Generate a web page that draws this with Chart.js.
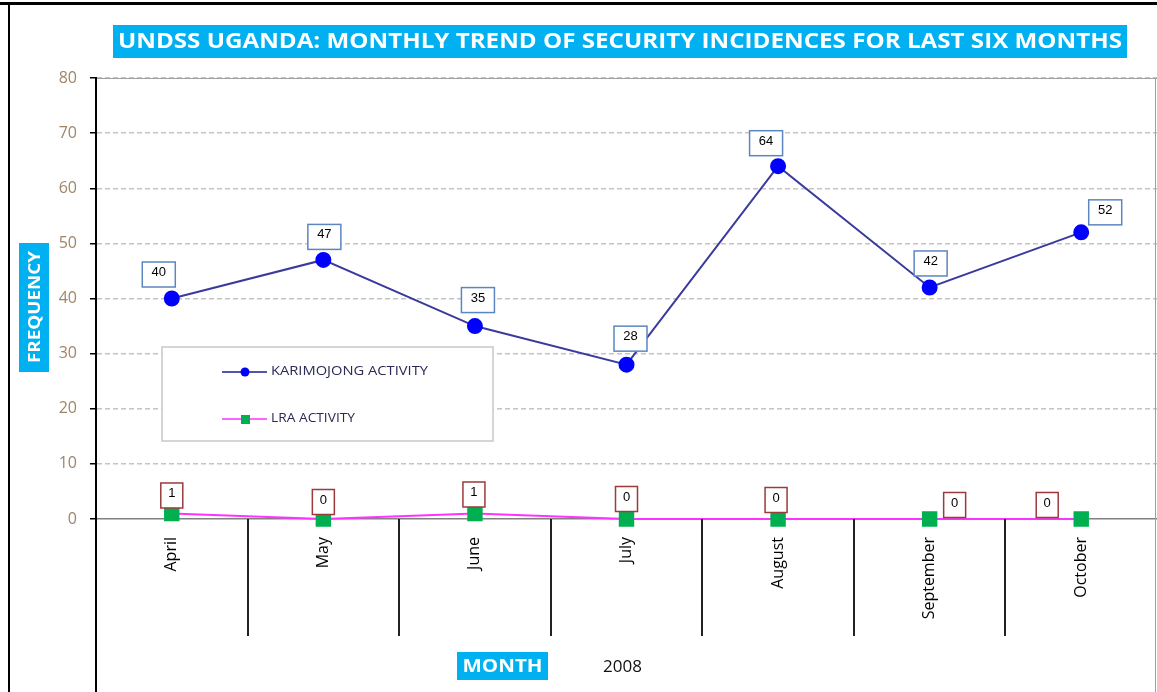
<!DOCTYPE html>
<html><head><meta charset="utf-8">
<script src="https://cdn.jsdelivr.net/npm/chart.js@4/dist/chart.umd.min.js"></script>
<style>html,body{margin:0;padding:0;background:#fff;overflow:hidden}#wrap{width:1157px;height:692px;position:relative}</style>
</head><body><div id="wrap"><canvas id="c" width="1157" height="692"></canvas></div>
<script>
// ---- data ----
const titleText = 'UNDSS UGANDA: MONTHLY TREND OF SECURITY INCIDENCES FOR LAST SIX MONTHS';
const months = ['April', 'May', 'June', 'July', 'August', 'September', 'October'];
const karimojong = [40, 47, 35, 28, 64, 42, 52];
const lra = [1, 0, 1, 0, 0, 0, 0];
const seriesNames = ['KARIMOJONG ACTIVITY', 'LRA ACTIVITY'];
const yAxisTitle = 'FREQUENCY';
const xAxisTitle = 'MONTH';
const yearLabel = '2008';
const yMin = 0, yMax = 80, yStep = 10;

// ---- label placement (style) ----
const kOff = [[-13,-24],[1,-23],[3,-26],[4,-26],[-12,-23],[1,-24],[24,-20]];
const lOff = [[0,-18],[0,-17],[-1,-19],[0,-20],[-2,-19],[25,-14],[-34,-14]];

const CYAN = '#00b0f0';

function fitText(ctx, text, x, y, targetW, font) {
  ctx.save();
  ctx.font = font;
  const w = ctx.measureText(text).width;
  const s = targetW / w;
  ctx.translate(x, y);
  ctx.scale(s, 1);
  ctx.textAlign = 'center';
  ctx.textBaseline = 'middle';
  ctx.fillText(text, 0, 0);
  ctx.restore();
}

const decor = {
  id: 'decor',
  beforeDraw(chart) {
    const ctx = chart.ctx;
    ctx.save();
    ctx.fillStyle = '#fff';
    ctx.fillRect(0, 0, chart.width, chart.height);
    ctx.restore();
  },
  afterDraw(chart) {
    const ctx = chart.ctx;
    const ca = chart.chartArea;
    const xs = chart.scales.x;
    ctx.save();
    // frame
    ctx.fillStyle = '#000';
    ctx.fillRect(0, 2, chart.width, 3);
    ctx.fillRect(8, 2, 2, chart.height);
    // plot area top and right border
    ctx.strokeStyle = '#a0a0a0';
    ctx.lineWidth = 1;
    ctx.beginPath();
    ctx.moveTo(ca.left, ca.top + 0.5); ctx.lineTo(ca.right, ca.top + 0.5);
    ctx.moveTo(1155.5, ca.top); ctx.lineTo(1155.5, chart.height);
    ctx.stroke();
    // y axis extended down
    ctx.strokeStyle = '#000';
    ctx.lineWidth = 2;
    ctx.beginPath();
    ctx.moveTo(ca.left, ca.top); ctx.lineTo(ca.left, chart.height);
    ctx.stroke();
    // category separators below axis
    ctx.strokeStyle = '#222';
    ctx.lineWidth = 2;
    ctx.beginPath();
    for (let i = 1; i < months.length; i++) {
      const x = Math.round((xs.getPixelForValue(i - 1) + xs.getPixelForValue(i)) / 2);
      ctx.moveTo(x, ca.bottom); ctx.lineTo(x, ca.bottom + 117);
    }
    ctx.stroke();

    // title
    ctx.fillStyle = CYAN;
    ctx.fillRect(113, 25, 1014, 33);
    ctx.fillStyle = '#fff';
    fitText(ctx, titleText, 620, 42, 1004, 'bold 21px "Open Sans"');

    // y title
    ctx.fillStyle = CYAN;
    ctx.fillRect(19, 243, 30, 129);
    ctx.save();
    ctx.translate(34, 307);
    ctx.rotate(-Math.PI / 2);
    ctx.fillStyle = '#fff';
    fitText(ctx, yAxisTitle, 0, 1, 112, 'bold 16px "Open Sans"');
    ctx.restore();

    // x title
    ctx.fillStyle = CYAN;
    ctx.fillRect(457, 652, 91, 28);
    ctx.fillStyle = '#fff';
    fitText(ctx, xAxisTitle, 502.5, 667, 80, 'bold 17px "Open Sans"');
    ctx.fillStyle = '#111';
    ctx.font = '17px "Open Sans"';
    ctx.textAlign = 'left';
    ctx.textBaseline = 'middle';
    ctx.fillText(yearLabel, 603, 667);

    // legend
    ctx.fillStyle = '#fff';
    ctx.fillRect(162, 347, 331, 94);
    ctx.strokeStyle = '#c8c8c8';
    ctx.lineWidth = 1.5;
    ctx.strokeRect(162, 347, 331, 94);
    const items = [
      {y: 372, line: '#1a1a99', fill: '#0000ff', shape: 'circle'},
      {y: 419, line: '#ff33ff', fill: '#00b050', shape: 'rect'}
    ];
    items.forEach((it, i) => {
      ctx.strokeStyle = it.line;
      ctx.lineWidth = 1.5;
      ctx.beginPath(); ctx.moveTo(222, it.y); ctx.lineTo(267, it.y); ctx.stroke();
      ctx.fillStyle = it.fill;
      if (it.shape === 'circle') { ctx.beginPath(); ctx.arc(245, it.y, 4.5, 0, Math.PI * 2); ctx.fill(); }
      else ctx.fillRect(241, it.y - 4, 9, 9);
      ctx.fillStyle = '#2a2a55';
      const target = i === 0 ? 157 : 84;
      ctx.save();
      ctx.font = '12px "Open Sans"';
      const w = ctx.measureText(seriesNames[i]).width;
      ctx.translate(271, it.y);
      ctx.scale(target / w, 1);
      ctx.textAlign = 'left'; ctx.textBaseline = 'middle';
      ctx.fillText(seriesNames[i], 0, 0);
      ctx.restore();
    });
    ctx.restore();
  },
  afterDatasetsDraw(chart) {
    const ctx = chart.ctx;
    ctx.save();
    ctx.font = '13px "Liberation Sans"';
    ctx.textAlign = 'center';
    ctx.textBaseline = 'middle';
    const drawLabels = (dsIndex, offs, border, bw, bh) => {
      const meta = chart.getDatasetMeta(dsIndex);
      meta.data.forEach((pt, i) => {
        const v = chart.data.datasets[dsIndex].data[i];
        const cx = pt.x + offs[i][0], cy = pt.y + offs[i][1];
        ctx.fillStyle = '#fff';
        ctx.fillRect(cx - bw / 2, cy - bh / 2, bw, bh);
        ctx.strokeStyle = border;
        ctx.lineWidth = 1.5;
        ctx.strokeRect(cx - bw / 2, cy - bh / 2, bw, bh);
        ctx.fillStyle = '#000';
        ctx.fillText(String(v), cx, cy - 2);
      });
    };
    drawLabels(0, kOff, '#5b86c0', 33, 25);
    drawLabels(1, lOff, '#9b3b3b', 22, 25);
    ctx.restore();
  }
};

new Chart(document.getElementById('c'), {
  type: 'line',
  data: {
    labels: months,
    datasets: [
      {
        label: seriesNames[0],
        data: karimojong,
        borderColor: '#3a3a9e',
        borderWidth: 2,
        pointBackgroundColor: '#0000ff',
        pointBorderColor: '#0000ff',
        pointRadius: 7,
        pointStyle: 'circle',
        tension: 0,
        clip: false
      },
      {
        label: seriesNames[1],
        data: lra,
        borderColor: '#ff33ff',
        borderWidth: 2,
        pointBackgroundColor: '#00b050',
        pointBorderColor: '#00b050',
        pointRadius: 9.5,
        pointStyle: 'rect',
        tension: 0,
        clip: false
      }
    ]
  },
  options: {
    responsive: false,
    animation: false,
    devicePixelRatio: 1,
    layout: { autoPadding: false, padding: { left: 0, right: 0, top: 78, bottom: 0 } },
    plugins: {
      legend: { display: false },
      title: { display: false },
      tooltip: { enabled: false }
    },
    scales: {
      x: {
        offset: true,
        grid: { display: false, drawTicks: false },
        border: { display: true, color: '#808080', width: 1.5 },
        ticks: {
          color: '#000',
          font: { family: '"Open Sans"', size: 16 },
          minRotation: 90,
          maxRotation: 90,
          padding: 18,
          autoSkip: false
        },
        afterFit(s) { s.height = 692 - 519; s.paddingLeft = 0; s.paddingRight = 0; }
      },
      y: {
        min: yMin,
        max: yMax,
        ticks: {
          stepSize: yStep,
          color: '#a08468',
          font: { family: '"Open Sans"', size: 16 },
          padding: 13
        },
        grid: {
          color: (c) => c.tick && c.tick.value === 0 ? 'rgba(0,0,0,0)' : '#c4c4c4',
          lineWidth: 1.5,
          tickLength: 6,
          tickColor: '#000',
          tickWidth: 1.5
        },
        border: { display: true, color: '#000', width: 2, dash: [5, 3] },
        afterFit(s) { s.width = 96; }
      }
    }
  },
  plugins: [decor]
});
</script>
</body></html>
